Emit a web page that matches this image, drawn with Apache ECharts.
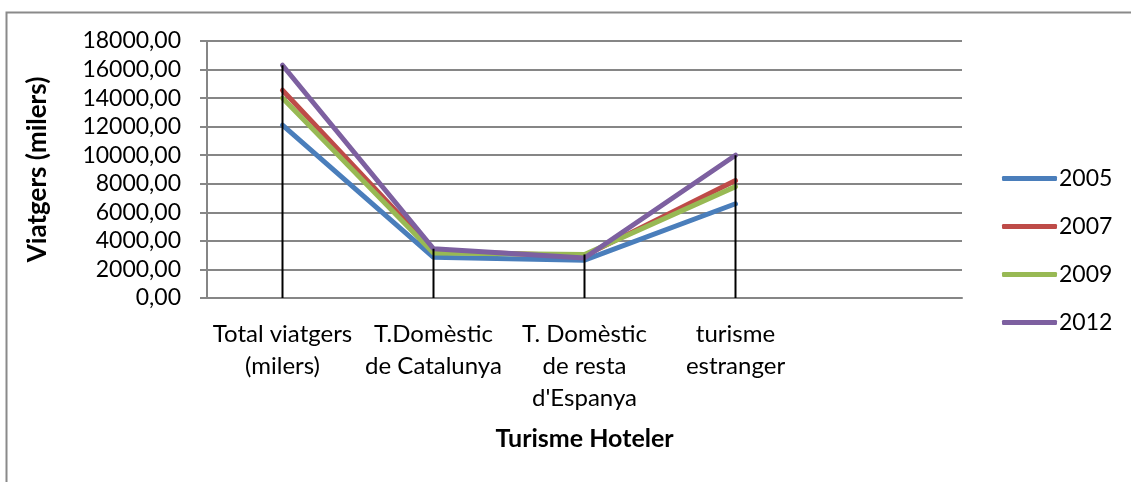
<!DOCTYPE html>
<html>
<head>
<meta charset="utf-8">
<script src="https://cdn.jsdelivr.net/npm/echarts@6/dist/echarts.min.js"></script>
<style>
  html, body { margin: 0; padding: 0; background: #fff; }
  #chart { width: 1131px; height: 482px; }
</style>
</head>
<body>
<div id="chart"></div>
<script>
const categories = ['Total viatgers\n(milers)', 'T.Domèstic\nde Catalunya', 'T. Domèstic\nde resta\nd\'Espanya', 'turisme\nestranger', ''];
const years = ['2005', '2007', '2009', '2012'];
const v2005 = [12100, 2850, 2650, 6600];
const v2007 = [14550, 3300, 2950, 8230];
const v2009 = [14000, 3150, 3050, 7800];
const v2012 = [16300, 3450, 2800, 10000];
const yearColors = ['#4A7EBB', '#BE4B48', '#98B954', '#7D60A0'];

const font = 'Lato';
const seriesValues = [v2005, v2007, v2009, v2012];
// drop lines go from the highest value of each category down to the axis
const dropTops = v2005.map((_, i) => Math.max(...seriesValues.map(s => s[i])));

const chart = echarts.init(document.getElementById('chart'));

const lineSeries = years.map((y, k) => ({
    name: y,
    type: 'line',
    data: seriesValues[k],
    showSymbol: false,
    symbol: 'none',
    lineStyle: { color: yearColors[k], width: 5, cap: 'round' },
    itemStyle: { color: yearColors[k] },
    z: 2 + k,
    animation: false
}));

chart.setOption({
    backgroundColor: '#fff',
    animation: false,
    graphic: [{
        type: 'rect',
        shape: { x: 6.5, y: 12.5, width: 1200, height: 600 },
        style: { fill: 'none', stroke: '#8a8a8a', lineWidth: 2 },
        silent: true
    }],
    grid: { left: 207, right: 169, top: 41, bottom: 184 },
    legend: {
        orient: 'vertical',
        left: 997,
        top: 162,
        itemWidth: 55,
        itemHeight: 5,
        itemGap: 25,
        icon: 'roundRect',
        textStyle: { fontFamily: font, fontSize: 23, color: '#000', padding: [0, 0, 0, -3] },
        data: years
    },
    xAxis: {
        type: 'category',
        data: categories,
        boundaryGap: true,
        name: 'Turisme Hoteler',
        nameLocation: 'middle',
        nameGap: 128,
        nameTextStyle: { fontFamily: font, fontSize: 25, fontWeight: 'bold', color: '#000' },
        axisLine: { lineStyle: { color: '#868686', width: 2 } },
        axisTick: { show: false },
        axisLabel: { fontFamily: font, fontSize: 24, color: '#000', lineHeight: 32, margin: 20, interval: 0 },
        splitLine: { show: false }
    },
    yAxis: {
        type: 'value',
        min: 0,
        max: 18000,
        interval: 2000,
        name: 'Viatgers (milers)',
        nameLocation: 'middle',
        nameGap: 156,
        nameTextStyle: { fontFamily: font, fontSize: 26, fontWeight: 'bold', color: '#000' },
        axisLine: { show: true, lineStyle: { color: '#868686', width: 2 } },
        axisTick: { show: true, inside: false, length: 7, lineStyle: { color: '#868686', width: 2 } },
        axisLabel: {
            fontFamily: font, fontSize: 23, color: '#000', margin: 26,
            formatter: v => v.toFixed(2).replace('.', ',')
        },
        splitLine: { lineStyle: { color: '#868686', width: 2 } }
    },
    series: lineSeries.concat([{
        type: 'custom',
        silent: true,
        z: 10,
        data: dropTops.map((v, i) => [i, v]),
        renderItem: (params, api) => {
            const top = api.coord([api.value(0), api.value(1)]);
            const bottom = api.coord([api.value(0), 0]);
            return {
                type: 'line',
                shape: { x1: top[0], y1: top[1], x2: bottom[0], y2: bottom[1] },
                style: { stroke: '#000', lineWidth: 2 }
            };
        }
    }])
});
</script>
</body>
</html>
